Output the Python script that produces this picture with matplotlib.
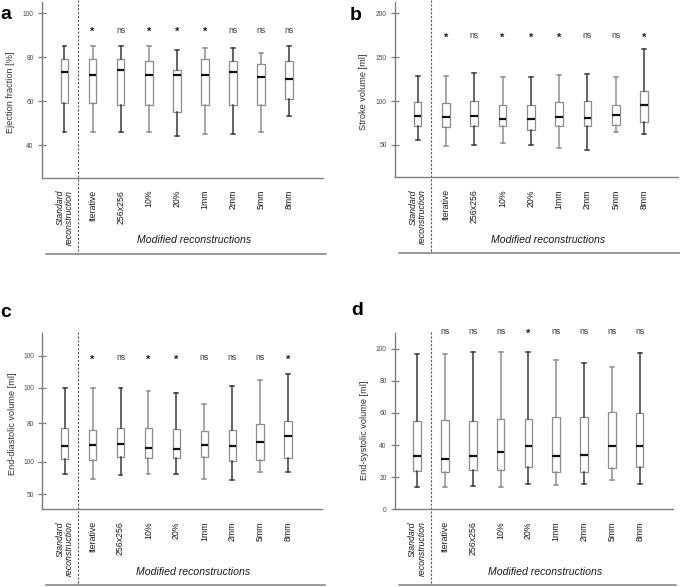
import matplotlib.pyplot as plt
from matplotlib.transforms import blended_transform_factory

plt.rcParams['font.family'] = ['Liberation Sans', 'DejaVu Sans']

categories = ['Standard\nreconstruction', 'Iterative', '256x256', '10%', '20%',
              '1mm', '2mm', '5mm', '8mm']

# (a) Ejection fraction [%]
ef_low = [46, 46, 46, 46, 44, 45, 45, 46, 53]
ef_q1 = [59, 59, 58, 58, 55, 58, 58, 58, 61]
ef_med = [73, 72, 74, 72, 72, 72, 73, 71, 70]
ef_q3 = [79, 79, 79, 78, 74, 79, 78, 77, 78]
ef_high = [85, 85, 85, 85, 83, 84, 84, 82, 85]
ef_sig = ['*', 'ns', '*', '*', '*', 'ns', 'ns', 'ns']

# (b) Stroke volume [ml]
sv_low = [55, 49, 50, 52, 50, 46, 44, 65, 62]
sv_q1 = [71, 70, 72, 71, 67, 72, 71, 73, 76]
sv_med = [83, 82, 83, 80, 79, 82, 81, 84, 95]
sv_q3 = [99, 98, 100, 96, 95, 99, 100, 96, 112]
sv_high = [129, 129, 132, 127, 128, 130, 131, 128, 159]
sv_sig = ['*', 'ns', '*', '*', '*', 'ns', 'ns', '*']

# (c) End-diastolic volume, on the plot's own (irregularly labelled) scale
edv_low = [71.6, 66.9, 70.6, 71.6, 71.6, 66.2, 65.8, 74.5, 74.1]
edv_q1 = [87.9, 87.1, 90.0, 89.3, 89.0, 90.0, 86.0, 87.5, 89.3]
edv_med = [102.3, 103.0, 104.1, 99.8, 99.0, 103.7, 102.3, 106.9, 113.4]
edv_q3 = [121.8, 119.6, 121.8, 121.8, 121.1, 118.8, 119.9, 126.4, 129.0]
edv_high = [165.4, 165.4, 165.4, 161.5, 160.0, 148.1, 166.9, 173.7, 180.5]
edv_sig = ['*', 'ns', '*', '*', 'ns', 'ns', 'ns', '*']
edv_ticks = [50, 85, 127.2, 165.4, 200]
edv_ticklabels = ['50', '100', '80', '100', '100']

# (d) End-systolic volume [ml]
esv_low = [13.9, 13.9, 14.5, 13.9, 15.9, 15.1, 15.7, 18.0, 15.9]
esv_q1 = [23.6, 23.4, 24.2, 24.4, 26.1, 23.4, 23.2, 25.9, 26.3]
esv_med = [33.2, 31.3, 33.4, 35.4, 39.2, 33.2, 33.6, 39.6, 39.4]
esv_q3 = [54.7, 55.4, 54.7, 56.2, 56.2, 57.2, 57.2, 60.8, 59.7]
esv_high = [96.5, 96.5, 97.9, 97.7, 97.7, 92.7, 91.1, 88.8, 97.3]
esv_sig = ['ns', 'ns', 'ns', '*', 'ns', 'ns', 'ns', 'ns']

GRAY = '#7f7f7f'
TXT = '#333333'

fig = plt.figure(figsize=(6.8, 5.87), dpi=100)


def draw_panel(rect, letter, letter_xy, low, q1, med, q3, high, sig, sig_y,
               ylabel, ylim, yticks, yticklabels, label_xy):
    ax = fig.add_axes(rect)
    stats = []
    for i in range(len(categories)):
        stats.append({'whislo': low[i], 'q1': q1[i], 'med': med[i],
                      'q3': q3[i], 'whishi': high[i], 'fliers': []})
    positions = list(range(1, len(categories) + 1))
    bp = ax.bxp(stats, positions=positions, widths=0.27, capwidths=0.14,
                showfliers=False, patch_artist=True,
                boxprops=dict(facecolor='white', edgecolor='#8c8c8c', linewidth=0.9),
                medianprops=dict(color='#111111', linewidth=1.6),
                whiskerprops=dict(linewidth=1.1),
                capprops=dict(linewidth=1.1))
    # whiskers alternate dark / light gray like the original
    for i in range(len(categories)):
        c = '#3a3a3a' if i % 2 == 0 else '#8f8f8f'
        for w in bp['whiskers'][2 * i:2 * i + 2]:
            w.set_color(c)
        for cp in bp['caps'][2 * i:2 * i + 2]:
            cp.set_color(c)

    ax.set_xlim(0.2, 10.2)
    ax.set_ylim(*ylim)
    ax.set_yticks(yticks)
    ax.set_yticklabels(yticklabels)
    ax.set_xticks([])
    for s in ['top', 'right']:
        ax.spines[s].set_visible(False)
    for s in ['left', 'bottom']:
        ax.spines[s].set_color(GRAY)
        ax.spines[s].set_linewidth(1.0)
    ax.tick_params(axis='y', direction='inout', length=6, width=0.9, colors=GRAY,
                   labelsize=4.8, labelcolor='#4a4a4a', pad=3)

    ax.set_ylabel(ylabel, fontsize=6.6, color=TXT, va='center')
    ax.yaxis.set_label_coords(*label_xy)

    trans = blended_transform_factory(ax.transData, ax.transAxes)
    # dashed divider between standard and modified reconstructions
    ax.plot([1.48, 1.48], [1.01, -0.43], transform=trans, clip_on=False,
            color='#555555', linestyle=(0, (2, 1.5)), linewidth=0.8)
    # bottom frame line
    ax.plot([0.015, 1.012], [-0.43, -0.43], transform=ax.transAxes, clip_on=False,
            color=GRAY, linewidth=1.1)

    for i, lab in enumerate(categories):
        if i == 0:
            ax.text(positions[i], -0.068, lab, transform=trans, rotation=90,
                    ha='center', va='top', ma='right', fontsize=6.3,
                    style='italic', color='#1a1a1a', linespacing=1.05)
        else:
            ax.text(positions[i], -0.068, lab, transform=trans, rotation=90,
                    ha='center', va='top', fontsize=6.3, color='#1a1a1a')

    for i, s in enumerate(sig):
        if s == '*':
            ax.text(positions[i + 1], sig_y - 0.012, s, transform=trans, ha='center',
                    va='center', fontsize=8, fontweight='bold', color='#222222',
                    clip_on=False)
        else:
            ax.text(positions[i + 1], sig_y, s, transform=trans, ha='center',
                    va='center', fontsize=6.3, color='#3a3a3a', clip_on=False)

    ax.text(5.6, -0.355, 'Modified reconstructions', transform=trans, ha='center',
            va='center', fontsize=7.6, style='italic', color='#1a1a1a')

    fig.text(letter_xy[0] / 680, 1 - letter_xy[1] / 587, letter, fontsize=14,
             fontweight='bold', ha='left', va='baseline', color='black')
    return ax


draw_panel([42 / 680, 1 - 178 / 587, 281 / 680, 176 / 587], 'a', (0, 19),
           ef_low, ef_q1, ef_med, ef_q3, ef_high, ef_sig, 0.84,
           'Ejection fraction [%]', (25, 105), [40, 60, 80, 100],
           ['40', '60', '80', '100'], (-0.112, 0.49))

draw_panel([395 / 680, 1 - 177.3 / 587, 283 / 680, 175.3 / 587], 'b', (350, 20),
           sv_low, sv_q1, sv_med, sv_q3, sv_high, sv_sig, 0.81,
           'Stroke volume [ml]', (13, 213), [50, 100, 150, 200],
           ['50', '100', '150', '200'], (-0.112, 0.49))

draw_panel([42.3 / 680, 1 - 509.3 / 587, 279.4 / 680, 176 / 587], 'c', (0, 317),
           edv_low, edv_q1, edv_med, edv_q3, edv_high, edv_sig, 0.86,
           'End-diastolic volume [ml]', (33.8, 224.3), edv_ticks,
           edv_ticklabels, (-0.108, 0.485))

draw_panel([395 / 680, 1 - 509.3 / 587, 278 / 680, 176 / 587], 'd', (351, 315),
           esv_low, esv_q1, esv_med, esv_q3, esv_high, esv_sig, 1.01,
           'End-systolic volume [ml]', (0, 109.6), [0, 20, 40, 60, 80, 100],
           ['0', '20', '40', '60', '80', '100'], (-0.108, 0.45))

fig.savefig('out.png', dpi=100)
